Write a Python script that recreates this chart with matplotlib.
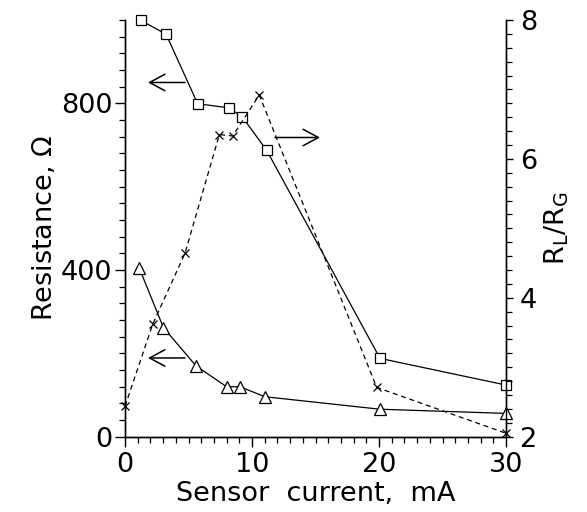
import matplotlib
matplotlib.use("Agg")
import matplotlib.pyplot as plt
from matplotlib.ticker import MultipleLocator

# data
current_sq = [1.24, 3.23, 5.72, 8.21, 9.24, 11.16, 20.08, 30.0]
res_sq = [999, 966, 799, 789, 767, 687, 188, 124]

current_tri = [1.13, 3.02, 5.59, 8.0, 9.06, 11.0, 20.08, 30.0]
res_tri = [404, 262, 170, 120, 120, 96, 66, 56]

current_x = [0.0, 2.18, 4.72, 7.43, 8.48, 10.57, 19.82, 30.0]
ratio_x = [2.44, 3.62, 4.64, 6.35, 6.33, 6.92, 2.71, 2.05]

plt.rcParams['font.family'] = 'DejaVu Sans'
fs = 19.5

fig = plt.figure(figsize=(5.87, 5.12), dpi=100)
ax = fig.add_axes([0.213, 0.147, 0.649, 0.814])
ax2 = ax.twinx()

ax.plot(current_sq, res_sq, '-', color='k', lw=0.9, marker='s', ms=7.5,
        mfc='white', mec='k', mew=0.9, clip_on=False, zorder=3)
ax.plot(current_tri, res_tri, '-', color='k', lw=0.9, marker='^', ms=8,
        mfc='white', mec='k', mew=0.9, clip_on=False, zorder=3)
ax2.plot(current_x, ratio_x, '--', color='k', lw=0.9, marker='x', ms=6,
         mew=0.9, dashes=(4, 3), clip_on=False)

ax.set_xlim(0, 30)
ax.set_ylim(0, 1000)
ax2.set_ylim(2, 8)

ax.xaxis.set_major_locator(MultipleLocator(10))
ax.xaxis.set_minor_locator(MultipleLocator(1))
ax.yaxis.set_major_locator(MultipleLocator(400))
ax.yaxis.set_minor_locator(MultipleLocator(40))
ax2.yaxis.set_major_locator(MultipleLocator(2))
ax2.yaxis.set_minor_locator(MultipleLocator(0.2))

for a in (ax, ax2):
    a.spines['top'].set_visible(False)
    for s in a.spines.values():
        s.set_linewidth(1.0)
    a.tick_params(which='major', direction='out', length=7, width=1.0,
                  labelsize=fs, pad=2)
    a.tick_params(which='minor', direction='out', length=4, width=0.9)
ax.tick_params(axis='x', pad=4)
ax2.tick_params(axis='y', which='major', length=5, pad=5)

ax.set_xlabel('Sensor  current,  mA', fontsize=fs, labelpad=2)
ax.set_ylabel('Resistance, $\\Omega$', fontsize=fs, labelpad=2)
ax2.set_ylabel('R$_\\mathregular{L}$/R$_\\mathregular{G}$', fontsize=fs, labelpad=4)

# arrows pointing to axes
arr = dict(arrowstyle='->, head_length=0.5, head_width=0.27', color='k',
           lw=1.1, mutation_scale=22, shrinkA=0, shrinkB=0)
ax.annotate('', xy=(1.81, 850), xytext=(4.72, 850), arrowprops=arr)
ax.annotate('', xy=(1.81, 189), xytext=(4.72, 189), arrowprops=arr)
ax.annotate('', xy=(15.35, 718), xytext=(11.8, 718), arrowprops=arr)

fig.savefig('out.png', dpi=100)
